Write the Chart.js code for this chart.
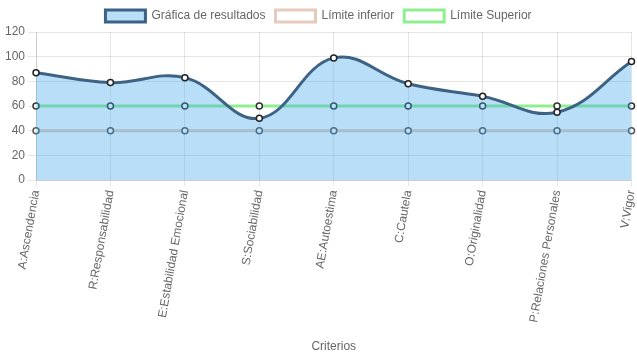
<!DOCTYPE html>
<html>
<head>
<meta charset="utf-8">
<script src="https://cdn.jsdelivr.net/npm/chart.js@4"></script>
<style>
  html, body { margin: 0; padding: 0; background: #fff; }
  #wrap { width: 637px; height: 359px; }
</style>
</head>
<body>
<div id="wrap"><canvas id="grafica"></canvas></div>
<script>
const categorias = ["A:Ascendencia", "R:Responsabilidad", "E:Estabilidad Emocional", "S:Sociabilidad",
    "AE:Autoestima", "C:Cautela", "O:Originalidad", "P:Relaciones Personales", "V:Vigor"];
const resultados = [87, 79, 83, 50, 99, 78, 68, 55, 96];
const limiteInferior = [40, 40, 40, 40, 40, 40, 40, 40, 40];
const limiteSuperior = [60, 60, 60, 60, 60, 60, 60, 60, 60];

Chart.defaults.font.family = "Arial, 'Liberation Sans', sans-serif";
Chart.defaults.font.size = 12;
Chart.defaults.color = "#666";

const ctx = document.getElementById("grafica").getContext("2d");
new Chart(ctx, {
    type: "line",
    data: {
        labels: categorias,
        datasets: [{
            label: "Gráfica de resultados",
            data: resultados,
            borderColor: "#3d6283",
            backgroundColor: "rgba(54,162,235,0.35)",
            borderWidth: 3,
            fill: true,
            tension: 0.4,
            pointRadius: 3,
            pointBorderWidth: 1.5,
            pointBackgroundColor: "#fff",
            pointBorderColor: "#222"
        }, {
            label: "Límite inferior",
            data: limiteInferior,
            borderColor: "#e6cbbd",
            backgroundColor: "#fff",
            borderWidth: 3,
            fill: false,
            pointRadius: 3,
            pointBorderWidth: 1.5,
            pointBackgroundColor: "#fff",
            pointBorderColor: "#555"
        }, {
            label: "Límite Superior",
            data: limiteSuperior,
            borderColor: "#90ee90",
            backgroundColor: "#fff",
            borderWidth: 3,
            fill: false,
            pointRadius: 3,
            pointBorderWidth: 1.5,
            pointBackgroundColor: "#fff",
            pointBorderColor: "#333"
        }]
    },
    options: {
        responsive: true,
        maintainAspectRatio: false,
        animation: false,
        layout: { padding: { left: 2, right: 2, top: 0, bottom: 3 } },
        plugins: {
            legend: {
                position: "top",
                labels: { boxWidth: 40, boxHeight: 12, padding: 10, color: "#666" }
            },
            tooltip: { enabled: false }
        },
        scales: {
            x: {
                grid: { color: "rgba(0,0,0,0.1)", tickLength: 6 },
                ticks: { minRotation: 80, maxRotation: 80, color: "#666" },
                title: { display: true, text: "Criterios", color: "#666", padding: { top: 13, bottom: 2 } },
                afterFit: (scale) => { scale.paddingRight = 0; }
            },
            y: {
                min: 0,
                max: 120,
                grid: { color: "rgba(0,0,0,0.1)" },
                ticks: { stepSize: 20, color: "#666" }
            }
        }
    }
});
</script>
</body>
</html>
